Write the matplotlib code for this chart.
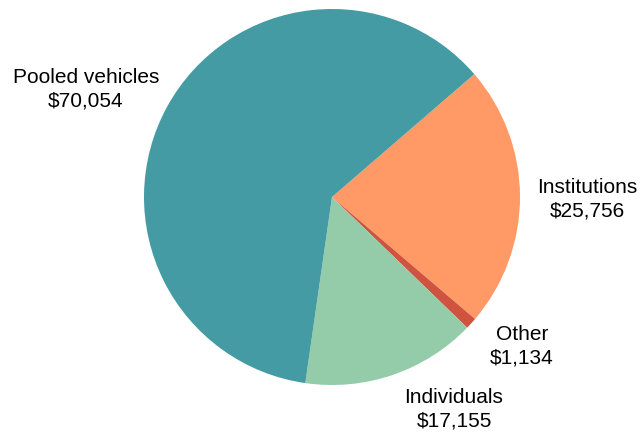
import matplotlib
matplotlib.use("Agg")
import matplotlib.pyplot as plt

categories = ["Institutions", "Other", "Individuals", "Pooled vehicles"]
values = [25756, 1134, 17155, 70054]
colors = ["#FF9966", "#CF533E", "#94CBA8", "#449BA3"]
# label positions in pixels (x, y from top) of the original, converted below
label_px = [(587, 199), (522, 346), (454, 409), (86, 89)]

W, H = 644, 436
cx, cy, R = 332, 197, 188

fig = plt.figure(figsize=(W / 100, H / 100), dpi=100)
ax = fig.add_axes([0, 0, 1, 1])
ax.pie(values, colors=colors, startangle=40.8, counterclock=False,
       radius=1, wedgeprops=dict(linewidth=0))
ax.set_xlim(-cx / R, (W - cx) / R)
ax.set_ylim(-(H - cy) / R, cy / R)
ax.set_aspect("auto")
ax.axis("off")

for cat, val, (px, py) in zip(categories, values, label_px):
    x = (px - cx) / R
    y = (cy - py) / R
    ax.text(x, y, f"{cat}\n${val:,}", ha="center", va="center",
            fontsize=15, family=["Liberation Sans", "DejaVu Sans"],
            linespacing=1.32, color="black")

fig.savefig("out.png", dpi=100)
